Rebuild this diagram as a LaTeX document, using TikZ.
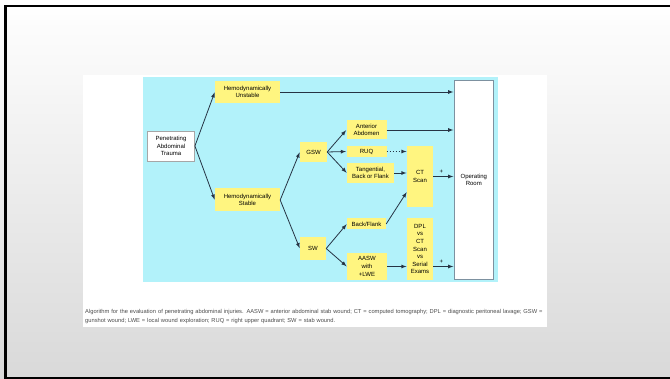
\documentclass[tikz,border=0pt]{standalone}
\usepackage{fontspec}
\setsansfont{Liberation Sans}
\usepackage{tikz}
\usetikzlibrary{arrows}
\definecolor{panelcyan}{RGB}{178,242,250}
\definecolor{boxyellow}{RGB}{255,245,128}
\definecolor{arrowdark}{RGB}{38,52,68}
\definecolor{orborder}{RGB}{125,145,160}
\newcommand{\boxfont}{\sffamily\fontsize{6}{7.6}\selectfont}
\tikzset{
	ybox/.style={fill=boxyellow, font=\boxfont, align=center, inner sep=0pt},
	wbox/.style={fill=white, draw=#1, line width=0.8pt, font=\boxfont, align=center, inner sep=0pt},
	flow/.style={->, >=latex, draw=arrowdark, line width=0.8pt, shorten >=0.3pt},
}

\begin{document}
\begin{tikzpicture}[x=1pt,y=-1pt]
		\useasboundingbox (0,0) rectangle (670,379);
		%slide background and frame
		\shade[top color=white, bottom color=black!15] (0,0) rectangle (670,379);
		\draw[line width=2.5pt] (5.3,6.2) rectangle (673,378.2);
		%figure panel
		\fill[white] (83,75) rectangle (547,327.5);
		\fill[panelcyan] (143,77.5) rectangle (498,281.7);
		%boxes
		\node [wbox=gray!70, minimum width=47pt, minimum height=30pt] (pat) at (171,146) {Penetrating\\Abdominal\\Trauma};
		\node [ybox, minimum width=65pt, minimum height=22pt] (unst) at (247.5,92) {Hemodynamically\\Unstable};
		\node [ybox, minimum width=65pt, minimum height=23pt] (stab) at (247.5,200) {Hemodynamically\\Stable};
		\node [ybox, minimum width=27pt, minimum height=20pt] (gsw) at (313.5,152) {GSW};
		\node [ybox, minimum width=26pt, minimum height=23pt] (sw) at (313,248.5) {SW};
		\node [ybox, minimum width=40pt, minimum height=19pt] (ant) at (366.5,130) {Anterior\\Abdomen};
		\node [ybox, minimum width=40pt, minimum height=11pt] (ruq) at (366.5,151.5) {RUQ};
		\node [ybox, minimum width=47pt, minimum height=20pt] (tang) at (370.5,173) {Tangential,\\Back or Flank};
		\node [ybox, minimum width=39pt, minimum height=11pt] (bkfl) at (366.5,224) {Back/Flank};
		\node [ybox, minimum width=40pt, minimum height=27pt] (aasw) at (367,266.5) {AASW\\with\\+LWE};
		\node [ybox, minimum width=26pt, minimum height=61pt] (ct) at (420,176.5) {CT\\Scan};
		\node [ybox, minimum width=26pt, minimum height=62pt] (dpl) at (420,249) {DPL\\vs\\CT\\Scan\\vs\\Serial\\Exams};
		\node [wbox=orborder, minimum width=39.5pt, minimum height=199.5pt] (orom) at (473.8,179.8) {Operating\\Room};
		%connectors
		\draw [flow] (pat.east) -- (unst.west);
		\draw [flow] (pat.east) -- (stab.west);
		\draw [flow] (unst.east) -- (unst.east -| orom.west);
		\draw [flow] (stab.east) -- (gsw.west);
		\draw [flow] (stab.east) -- (sw.west);
		\draw [flow] (gsw.east) -- (ant.west);
		\draw [flow] (gsw.east) -- (ruq.west);
		\draw [flow] (gsw.east) -- (tang.west);
		\draw [flow] (ant.east) -- (ant.east -| orom.west);
		\draw [flow, dash pattern=on 1.6pt off 1.4pt] (ruq.east) -- (ruq.east -| ct.west);
		\draw [flow] (tang.east) -- (tang.east -| ct.west);
		\draw [flow] (ct.east) -- (ct.east -| orom.west) node[midway, above=-0.5pt, xshift=-2pt, font=\boxfont] {+};
		\draw [flow] (sw.east) -- (bkfl.west);
		\draw [flow] (sw.east) -- (aasw.west);
		\draw [flow] (bkfl.east) -- (ct.west |- 0,192);
		\draw [flow] (aasw.east) -- (aasw.east -| dpl.west);
		\draw [flow] (aasw.east -| dpl.east) -- (aasw.east -| orom.west) node[midway, above=-0.5pt, xshift=-2pt, font=\boxfont] {+};
		%caption
		\node [anchor=north west, text width=462pt, align=left, inner sep=0pt, text=black!70, font=\sffamily\fontsize{5.75}{8.4}\selectfont] (cap) at (85,309.5) {\hyphenpenalty=10000 Algorithm for the evaluation of penetrating abdominal injuries. AASW = anterior abdominal stab wound; CT = computed tomography; DPL = diagnostic peritoneal lavage; GSW = gunshot wound; LWE = local wound exploration; RUQ = right upper quadrant; SW = stab wound.};
\end{tikzpicture}
\end{document}
